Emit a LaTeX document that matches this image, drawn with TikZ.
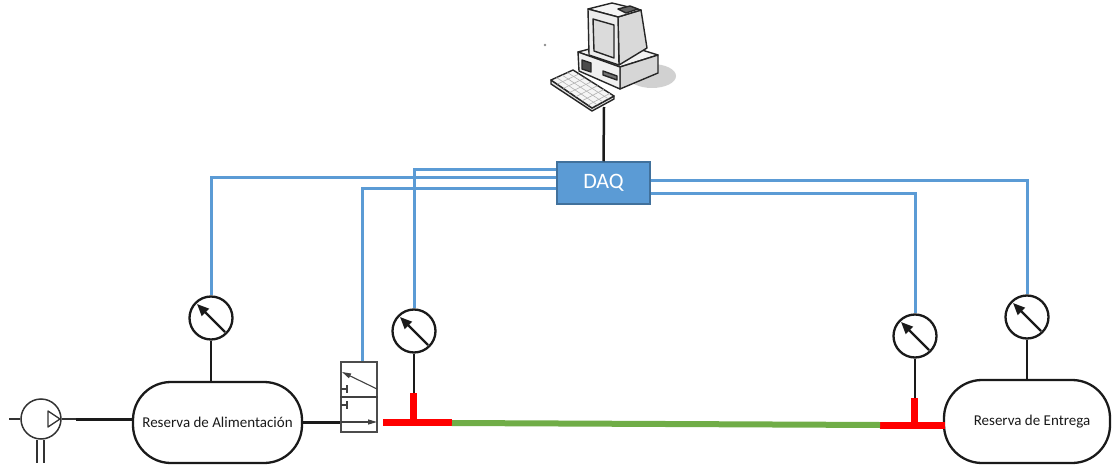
\documentclass[tikz,border=0pt]{standalone}
\usepackage{fontspec}
\newfontfamily\calibri{Carlito}
\usetikzlibrary{arrows.meta,calc}
\definecolor{sigblue}{HTML}{5B9BD5}
\definecolor{daqedge}{HTML}{41719C}
\definecolor{pipegreen}{HTML}{70AD47}
\definecolor{ink}{HTML}{1A1A1A}
\begin{document}
\begin{tikzpicture}[x=1pt,y=-1pt,
  gauge/.style={circle,draw=ink,line width=2.3pt,minimum size=43pt,inner sep=0pt,fill=white},
  needle/.style={draw=ink,line width=2.2pt,-{Triangle[length=12pt,width=10pt]}},
  tank/.style={draw=ink,line width=2.3pt,rounded corners=38pt,inner sep=0pt,
    font=\calibri\fontsize{15}{18}\selectfont,text=black!90},
  stem/.style={draw=ink,line width=2.5pt},
  sig/.style={draw=sigblue,line width=3pt},
  tee/.style={draw=red,line width=7pt},
  pipe/.style={draw=pipegreen,line width=6pt},
  fine/.style={draw=black!75,line width=1.1pt},
  pcline/.style={draw=black!85,line width=1.4pt,line join=round},
]
\useasboundingbox (0,0) rectangle (1113,465);

% ---------- computer ----------
\fill[black!45] (545,45) circle (1.3pt);
\fill[black!18] (652,76) ellipse [x radius=24pt, y radius=12pt];
% desktop case
\filldraw[pcline,fill=black!5] (578,52) -- (616,42) -- (658,55) -- (620,67) -- cycle;
\filldraw[pcline,fill=black!16] (620,67) -- (658,55) -- (658,73) -- (620,89) -- cycle;
\filldraw[pcline,fill=black!6] (578,52) -- (620,67) -- (620,89) -- (579,71) -- cycle;
\filldraw[pcline,fill=black!70] (582,60) -- (591,63) -- (591,72) -- (582,69) -- cycle;
\filldraw[pcline,fill=black!55] (603,71) -- (617,76) -- (617,80) -- (603,75) -- cycle;
% monitor
\filldraw[pcline,fill=black!15] (618,17) -- (641,10) -- (647,48) -- (619,65) -- cycle;
\filldraw[pcline,fill=black!4] (588,9) -- (612,3) -- (641,10) -- (618,17) -- cycle;
\filldraw[pcline,fill=black!60] (618,9) -- (630,6) -- (638,9) -- (626,13) -- cycle;
\filldraw[pcline,fill=black!7] (588,9) -- (618,17) -- (619,65) -- (589,55) -- cycle;
\filldraw[pcline,fill=black!14] (593,19) -- (614,25) -- (614,58) -- (594,51) -- cycle;
% keyboard
\filldraw[pcline,fill=black!12] (551,80) -- (551,84) -- (592,111) -- (614,99) -- (614,96) -- (592,108) -- cycle;
\filldraw[pcline,fill=black!4] (551,80) -- (573,70) -- (614,96) -- (592,108) -- cycle;
\foreach \t in {0.25,0.5,0.75}
  \draw[black!30,line width=0.6pt] ($(551,80)!\t!(573,70)$) -- ($(592,108)!\t!(614,96)$);
\foreach \t in {0.15,0.3,0.45,0.6,0.75,0.9}
  \draw[black!30,line width=0.6pt] ($(551,80)!\t!(592,108)$) -- ($(573,70)!\t!(614,96)$);
\coordinate (pc) at (604,107);

% ---------- acquisition box ----------
\node[draw=daqedge,fill=sigblue,line width=1.5pt,minimum width=93pt,minimum height=42pt,
  text=white,font=\calibri\fontsize{22}{26}\selectfont] (daq) at (603.5,183) {DAQ};
\draw[stem] (pc) -- (daq.north);

% ---------- tanks, gauges, valve ----------
\node[tank,minimum width=169pt,minimum height=81pt] (t1) at (217.5,422.5) {Reserva de Alimentación};
\node[tank,minimum width=166pt,minimum height=83pt] (t2) at (1027,421.5) {\hspace{10pt}Reserva de Entrega};

\node[gauge] (g1) at (211,318) {};
\node[gauge] (g2) at (414,331) {};
\node[gauge] (g3) at (915,336) {};
\node[gauge] (g4) at (1027,317) {};

\node[draw=black!70,line width=1.1pt,minimum width=36pt,minimum height=70pt,inner sep=0pt] (valve) at (359,397) {};

% signal wiring
\draw[sig] ([yshift=13pt]daq.west) -| (g2.north);
\draw[sig] ([yshift=5pt]daq.west) -| (g1.north);
\draw[sig] ([yshift=-6pt]daq.west) -| ([xshift=3pt]valve.north);
\draw[sig] ([yshift=2pt]daq.east) -| (g4.north);
\draw[sig] ([yshift=-11pt]daq.east) -| (g3.north);

% gauge needles
\foreach \g in {g1,g2,g3,g4}
  \draw[needle] ([shift={(14,14)}]\g.center) -- ([shift={(-14,-14)}]\g.center);

% valve symbol
\draw[fine] (valve.west) -- (valve.east);
\draw[fine,-{Triangle[length=9pt,width=5pt]}] (377,389) -- (342,372);
\draw[fine] (341,389) -- (347,389) (347,385) -- (347,393);
\draw[fine] (341,405) -- (347,405) (347,401) -- (347,409);
\draw[fine,-{Triangle[length=9pt,width=5pt]}] (341,422) -- (377,422);

% tee junctions and test line
\coordinate (tla) at (383,422);
\coordinate (tlb) at (452,422);
\coordinate (tlt) at (413,393);
\coordinate (tlj) at (413,422);
\coordinate (tra) at (880,425);
\coordinate (trb) at (945,425);
\coordinate (trt) at (914,398);
\coordinate (trj) at (914,425);
\draw[tee] (tla) -- (tlb);
\draw[tee] (tlt) -- (tlj);
\draw[tee] (tra) -- (trb);
\draw[tee] (trt) -- (trj);
\draw[pipe] ([yshift=-1pt]tlb) -- (tra);

% stems
\draw[stem] (g1.south) -- (g1.south |- t1.north);
\draw[stem] (g2.south) -- (g2.south |- tlt);
\draw[stem] (g3.south) -- (g3.south |- trt);
\draw[stem] (g4.south) -- (g4.south |- t2.north);

% pump
\node[circle,draw=black!80,line width=1.5pt,minimum size=40pt,inner sep=0pt] (pump) at (41,419) {};
\draw[black!80,line width=1.3pt] (9,419) -- (pump.west);
\draw[black!80,line width=1.3pt] (pump.east) -- ++(14,0) coordinate (pout);
\draw[black!80,line width=1.3pt,line join=round] (48,411) -- (60,419) -- (48,427) -- cycle;
\draw[black!80,line width=1.3pt] (37,440) -- (37,463) (44,440) -- (44,463);
\draw[stem,line width=3pt] (pout) -- (pout -| t1.west);
\draw[stem,line width=3pt] (t1.east |- 0,422) -- (valve.west |- 0,422);
\end{tikzpicture}
\end{document}
